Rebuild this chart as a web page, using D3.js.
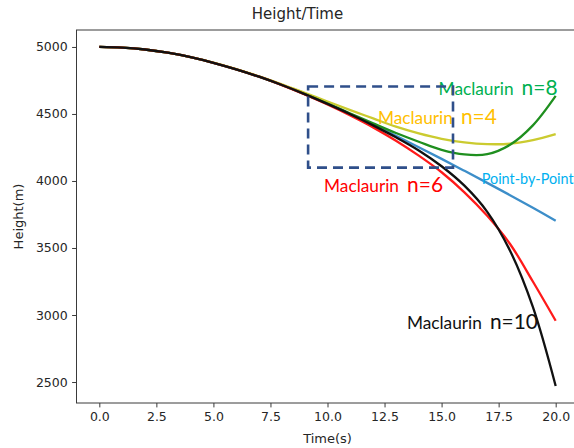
<!DOCTYPE html>
<html>
<head>
<meta charset="utf-8">
<script src="https://cdn.jsdelivr.net/npm/d3@7"></script>
<style>
  html, body { margin: 0; padding: 0; background: #fff; }
  svg { display: block; }
</style>
</head>
<body>
<svg id="chart" width="574" height="448"></svg>
<script>
// ---------- data ----------
const times = [0,1,2,3,4,5,6,7,8,9,10,11,12,13,14,15,16,17,18,19,20];
const pointByPoint = [5000,4995,4981,4957,4924,4882,4833,4778,4716,4648,4576,4500,4420,4337,4252,4165,4076,3986,3894,3800,3703];
const maclaurin4  = [5000,4995,4981,4957,4924,4883,4835,4781,4722,4658,4593,4529,4467,4405,4355,4315,4288,4275,4278,4305,4350];
const maclaurin6  = [5000,4995,4981,4957,4924,4882,4833,4778,4715,4646,4571,4489,4400,4300,4189,4065,3915,3740,3530,3250,2957];
const maclaurin8  = [5000,4995,4981,4957,4924,4882,4833,4778,4716,4649,4578,4504,4430,4358,4293,4232,4198,4200,4270,4415,4635];
const maclaurin10 = [5000,4995,4981,4957,4924,4882,4833,4778,4716,4648,4575,4498,4415,4326,4228,4110,3965,3770,3480,3060,2470];
const xTicks = [0,2.5,5,7.5,10,12.5,15,17.5,20];
const yTicks = [2500,3000,3500,4000,4500,5000];
const zoomBox = [9.15, 15.5, 4100, 4705]; // t0, t1, h0, h1
const labelNames = ["Maclaurin n=8","Maclaurin n=4","Maclaurin n=6","Point-by-Point","Maclaurin n=10"];
const labelAnchors = [[14.87,4641],[12.21,4425],[9.85,3917],[16.76,3977],[13.48,2893]];

// ---------- layout / style ----------
const plot = {left: 76.5, top: 30, right: 578.5, bottom: 403};
const svg = d3.select("#chart");

const x = d3.scaleLinear().domain([-1, 21]).range([plot.left, plot.right]);
const yMin = 2470 - 0.05*(5000-2470), yMax = 5000 + 0.05*(5000-2470);
const y = d3.scaleLinear().domain([yMin, yMax]).range([plot.bottom, plot.top]);

const axisFont = "DejaVu Sans, sans-serif";
const textColor = "#262626";

// frame
svg.append("rect")
  .attr("x", plot.left).attr("y", plot.top)
  .attr("width", plot.right - plot.left).attr("height", plot.bottom - plot.top)
  .attr("fill", "none").attr("stroke", "#3a3a3a").attr("stroke-width", 1);

// axes
const xAxis = d3.axisBottom(x).tickValues(xTicks).tickFormat(d3.format(".1f")).tickSize(4.4).tickPadding(4.4);
const gx = svg.append("g").attr("transform", `translate(0,${plot.bottom})`).call(xAxis);
const yAxis = d3.axisLeft(y).tickValues(yTicks).tickFormat(d3.format("d")).tickSize(4.4).tickPadding(4.4);
const gy = svg.append("g").attr("transform", `translate(${plot.left},0)`).call(yAxis);
[gx, gy].forEach(g => {
  g.select(".domain").remove();
  g.selectAll(".tick line").attr("stroke", "#3a3a3a");
  g.selectAll(".tick text").attr("fill", textColor).style("font-family", axisFont).style("font-size", "12.5px");
});

// titles
svg.append("text").attr("x", 297.5).attr("y", 18.5).attr("text-anchor", "middle")
  .style("font-family", axisFont).style("font-size", "15px").attr("fill", textColor).text("Height/Time");
svg.append("text").attr("x", (plot.left + plot.right)/2).attr("y", 443).attr("text-anchor", "middle")
  .style("font-family", axisFont).style("font-size", "13px").attr("fill", textColor).text("Time(s)");
svg.append("text").attr("transform", `translate(23,${(plot.top+plot.bottom)/2}) rotate(-90)`)
  .attr("text-anchor", "middle")
  .style("font-family", axisFont).style("font-size", "13px").attr("fill", textColor).text("Height(m)");

// lines
svg.append("clipPath").attr("id", "clip").append("rect")
  .attr("x", plot.left).attr("y", plot.top).attr("width", plot.right-plot.left).attr("height", plot.bottom-plot.top);
const line = d3.line().x(d => x(d[0])).y(d => y(d[1])).curve(d3.curveCatmullRom.alpha(0.5));
const series = [
  {vals: pointByPoint, color: "#3d8ec9"},
  {vals: maclaurin4, color: "#cbcb30"},
  {vals: maclaurin8, color: "#1f8f1f"},
  {vals: maclaurin6, color: "#ff1a1a"},
  {vals: maclaurin10, color: "#111111"}
];
const gl = svg.append("g").attr("clip-path", "url(#clip)");
series.forEach(s => {
  gl.append("path").datum(times.map((t,i) => [t, s.vals[i]]))
    .attr("d", line).attr("fill", "none").attr("stroke", s.color)
    .attr("stroke-width", 2.3).attr("stroke-linejoin", "round").attr("stroke-linecap", "butt");
});

// annotation labels
const labelFont = "Lato, 'Open Sans', sans-serif";
const labelColors = ["#00b050", "#ffc000", "#ff0000", "#00b0f0", "#111111"];
function fitText(sel, target) {
  const w = sel.node().getComputedTextLength();
  const fs = parseFloat(sel.style("font-size"));
  sel.style("font-size", (fs * target / w) + "px");
}
labelNames.forEach((name, i) => {
  const ax = x(labelAnchors[i][0]), ay = y(labelAnchors[i][1]);
  if (name.startsWith("Maclaurin")) {
    const nPart = name.split(" ")[1];
    const t1 = svg.append("text").attr("x", ax).attr("y", ay)
      .style("font-family", labelFont).style("font-size", "18px").attr("fill", labelColors[i]).text("Maclaurin");
    fitText(t1, 75);
    const t2 = svg.append("text").attr("x", ax + 75 + 8).attr("y", ay)
      .style("font-family", labelFont).style("font-size", "23px").attr("fill", labelColors[i]).text(nPart);
    fitText(t2, nPart.length === 4 ? 48 : 36);
  } else {
    const t = svg.append("text").attr("x", ax).attr("y", ay)
      .style("font-family", labelFont).style("font-size", "15px").attr("fill", labelColors[i]).text(name);
    fitText(t, 92);
  }
});

// dashed zoom box
svg.append("rect")
  .attr("x", x(zoomBox[0])).attr("y", y(zoomBox[3]))
  .attr("width", x(zoomBox[1]) - x(zoomBox[0])).attr("height", y(zoomBox[2]) - y(zoomBox[3]))
  .attr("fill", "none").attr("stroke", "#2f4f8a").attr("stroke-width", 2.6)
  .attr("stroke-dasharray", "10,6");
</script>
</body>
</html>
